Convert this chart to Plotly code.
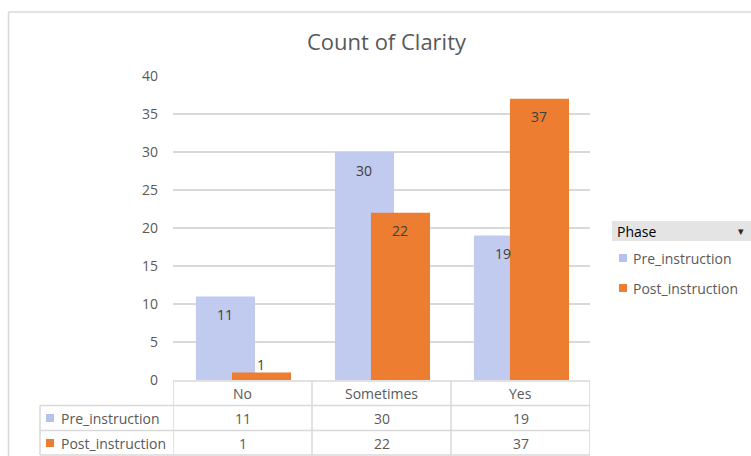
import plotly.graph_objects as go

categories = ["No", "Sometimes", "Yes"]
series_names = ["Pre_instruction", "Post_instruction"]
pre_values = [11, 30, 19]
post_values = [1, 22, 37]
y_ticks = [0, 5, 10, 15, 20, 25, 30, 35, 40]

W, H = 751, 456
L, R, T, B = 173, 590, 76, 380
PW, PH = R - L, B - T

def px(x):
    return (x - L) / PW

def py(y):
    return (B - y) / PH

FONT = "Open Sans"
PRE_COLOR = "#c0cbef"
PRE_KEY = "#b4c2ee"
POST_COLOR = "#ED7D31"
GRID = "#d9d9d9"
TXT = "#595959"

bar_w = 0.425
offsets = [-0.335, -0.076]
colors = [PRE_COLOR, POST_COLOR]
values = [pre_values, post_values]

fig = go.Figure()
for name, vals, off, col in zip(series_names, values, offsets, colors):
    fig.add_trace(go.Bar(
        x=list(range(len(categories))), y=vals, name=name,
        width=bar_w, offset=off,
        marker=dict(color=col, line=dict(width=0)),
        showlegend=False, hoverinfo="y+name",
    ))

annotations = []
shapes = []

# data labels
for vals, off in zip(values, offsets):
    for i, v in enumerate(vals):
        inside = v * PH / 40 > 30
        annotations.append(dict(
            x=i + off + bar_w / 2, y=v, xref="x", yref="y",
            text=str(v), showarrow=False,
            yshift=-18 if inside else 8,
            font=dict(family=FONT, size=14, color="#404040"),
        ))

# title
annotations.append(dict(
    x=px(387), y=py(41), xref="paper", yref="paper",
    text="Count of Clarity", showarrow=False,
    font=dict(family=FONT, size=22, color=TXT),
    xanchor="center", yanchor="middle",
))

# chart border
shapes.append(dict(type="line", xref="paper", yref="paper",
                   x0=px(8.5), x1=px(760), y0=py(12), y1=py(12),
                   line=dict(color=GRID, width=1.5)))
shapes.append(dict(type="line", xref="paper", yref="paper",
                   x0=px(8.5), x1=px(8.5), y0=py(12), y1=py(470),
                   line=dict(color=GRID, width=1.5)))

# data table
row_y = [381, 405.5, 430.5, 455]
row_c = [393, 418, 443]
tcol = dict(color=GRID, width=1.5)
shapes.append(dict(type="line", xref="paper", yref="paper",
                   x0=px(L), x1=px(R), y0=py(row_y[0]), y1=py(row_y[0]), line=tcol))
for ry in row_y[1:]:
    shapes.append(dict(type="line", xref="paper", yref="paper",
                       x0=px(40), x1=px(R), y0=py(ry), y1=py(ry), line=tcol))
for bx in [-0.5, 0.5, 1.5, 2.5]:
    shapes.append(dict(type="line", xref="x", yref="paper",
                       x0=bx, x1=bx, y0=py(row_y[0]), y1=py(row_y[3]), line=tcol))
shapes.append(dict(type="line", xref="paper", yref="paper",
                   x0=px(40), x1=px(40), y0=py(row_y[1]), y1=py(row_y[3]), line=tcol))

for i, c in enumerate(categories):
    annotations.append(dict(x=i, y=py(row_c[0]), xref="x", yref="paper",
                            text=c, showarrow=False, yanchor="middle",
                            font=dict(family=FONT, size=14, color=TXT)))
    for r, vals in enumerate(values):
        annotations.append(dict(x=i, y=py(row_c[r + 1]), xref="x", yref="paper",
                                text=str(vals[i]), showarrow=False, yanchor="middle",
                                font=dict(family=FONT, size=14, color=TXT)))

keys = [PRE_KEY, POST_COLOR]
for r, (name, kc) in enumerate(zip(series_names, keys)):
    cy = row_c[r + 1]
    shapes.append(dict(type="rect", xref="paper", yref="paper",
                       x0=px(46), x1=px(54), y0=py(cy - 4), y1=py(cy + 4),
                       fillcolor=kc, line=dict(width=0)))
    annotations.append(dict(x=px(59), y=py(cy), xref="paper", yref="paper",
                            text=name, showarrow=False, xanchor="left", yanchor="middle",
                            font=dict(family=FONT, size=14, color=TXT)))

# legend (pivot field button + items)
shapes.append(dict(type="rect", xref="paper", yref="paper",
                   x0=px(612), x1=px(752), y0=py(221), y1=py(241),
                   fillcolor="#e4e4e4", line=dict(width=0)))
annotations.append(dict(x=px(615), y=py(231), xref="paper", yref="paper",
                        text="Phase", showarrow=False, xanchor="left", yanchor="middle",
                        font=dict(family=FONT, size=14, color="#000000")))
annotations.append(dict(x=px(741), y=py(231), xref="paper", yref="paper",
                        text="▾", showarrow=False, xanchor="center", yanchor="middle",
                        font=dict(family="DejaVu Sans", size=11, color="#262626")))
for r, (name, kc) in enumerate(zip(series_names, keys)):
    cy = 258 + 30 * r
    shapes.append(dict(type="rect", xref="paper", yref="paper",
                       x0=px(619), x1=px(627), y0=py(cy - 4), y1=py(cy + 4),
                       fillcolor=kc, line=dict(width=0)))
    annotations.append(dict(x=px(631), y=py(cy), xref="paper", yref="paper",
                            text=name, showarrow=False, xanchor="left", yanchor="middle",
                            font=dict(family=FONT, size=14, color=TXT)))

fig.update_layout(
    width=W, height=H,
    margin=dict(l=L, r=W - R, t=T, b=H - B, pad=0),
    paper_bgcolor="white", plot_bgcolor="white",
    barmode="overlay",
    xaxis=dict(range=[-0.5, 2.5], showticklabels=False, showgrid=False,
               zeroline=False, showline=False, ticks="", fixedrange=True),
    yaxis=dict(range=[0, 40], tickvals=y_ticks, showgrid=True, gridcolor=GRID,
               gridwidth=1.5, zeroline=False, showline=False, ticks="",
               ticklabelstandoff=14,
               tickfont=dict(family=FONT, size=14, color=TXT), fixedrange=True),
    annotations=annotations, shapes=shapes,
    font=dict(family=FONT),
)

fig.write_html("out.html", config={"displayModeBar": False},
               post_script="document.body.style.margin='0';document.body.style.overflow='hidden';")
